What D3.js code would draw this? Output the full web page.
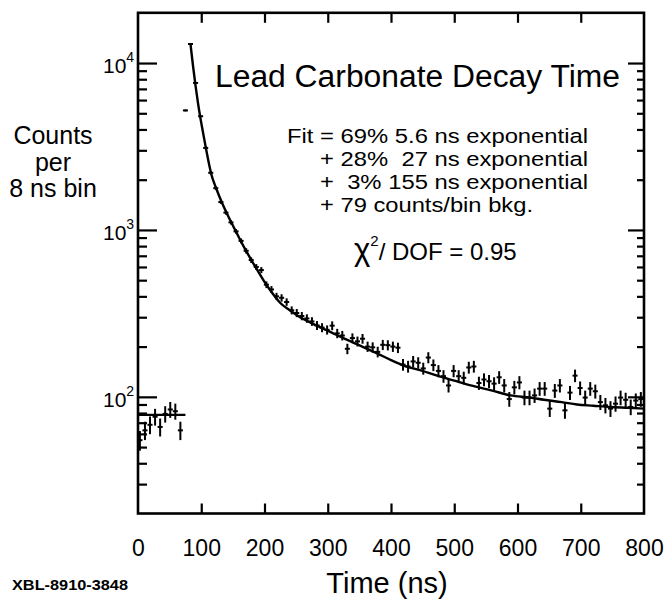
<!DOCTYPE html>
<html><head><meta charset="utf-8">
<script src="https://cdn.jsdelivr.net/npm/d3@7"></script>
<style>
body{margin:0;background:#fff}
svg{display:block}
text{font-family:"Liberation Sans",Arial,Helvetica,sans-serif;fill:#000}
</style>
</head><body><svg id="c" width="666" height="600"></svg>
<script>
// ---- data ----
const binTimes = [3,11,19,27,35,43,51,59,67,75,83,91,99,107,115,123,131,139,147,155,163,171,179,187,195,203,211,219,227,235,243,251,259,267,275,283,291,299,307,315,323,331,339,347,355,363,371,379,387,395,403,411,419,427,435,443,451,459,467,475,483,491,499,507,515,523,531,539,547,555,563,571,579,587,595,603,611,619,627,635,643,651,659,667,675,683,691,699,707,715,723,731,739,747,755,763,771,779,787,795];
const binCounts = [55,63,68,76,66,79,84,82,63,5200,
  13000,7600,4800,3100,2200,1780,1470,1270,1110,980,
  860,750,660,600,575,470,440,400,392,370,
  330,318,305,295,283,268,260,252,267,240,
  233,194,225,215,223,200,198,186,205,204,
  200,197,156,152,163,160,148,172,155,143,
  133,117,143,133,130,150,152,121,127,124,
  120,131,117,97,114,122,99,99,102,112,
  112,85,109,117,83,106,134,113,99,112,
  108,93,89,85,91,99,96,87,95,97];
const fitTimes = [83,87,91,95,99,103,108,116,124,134,144,153,161,170,185,199,212,225,240,252,280,304,330,357,378,400,420,447,473,500,526,560,589,620,642,670,694,720,747,775,800];
const fitCounts = [13000,9600,7300,5700,4600,3800,3000,2150,1760,1420,1180,1010,880,760,606,495,420,365,330,307,270,245,220,198,182,166,154,144,134,125,117,109,102,99,96,93,90,88.5,87,86,85];
const baseTimes = [0,75];
const baseCounts = [78,78];
const xTicks = [0,100,200,300,400,500,600,700,800];
const yMajor = [100,1000,10000];
const yMinor = [30,40,50,60,70,80,90,200,300,400,500,600,700,800,900,2000,3000,4000,5000,6000,7000,8000,9000];
const yLabels = [{base:"10",exp:"2",v:100},{base:"10",exp:"3",v:1000},{base:"10",exp:"4",v:10000}];
const titleText = "Lead Carbonate Decay Time";
const fitLines = ["Fit = 69% 5.6 ns exponential","+ 28%  27 ns exponential","+  3% 155 ns exponential","+ 79 counts/bin bkg."];

// ---- drawing ----
const svg = d3.select("#c");
const L=138,R=644,T=12.8,B=513.5;
const x = d3.scaleLinear().domain([0,800]).range([L,R]);
const y = d3.scaleLog().domain([20,20000]).range([B,T]);

// frame
svg.append("rect").attr("x",L).attr("y",T).attr("width",R-L).attr("height",B-T)
  .attr("fill","none").attr("stroke","#000").attr("stroke-width",2.6);

function inward(axisFn, scale, vals, size, tx, ty){
  const g = svg.append("g").attr("transform",`translate(${tx},${ty})`)
    .call(axisFn(scale).tickValues(vals).tickSize(size).tickFormat(""));
  g.select(".domain").remove();
  g.selectAll(".tick line").attr("stroke","#000").attr("stroke-width",2.2);
  return g;
}
const inner = [100,200,300,400,500,600,700];
inward(d3.axisBottom, x, inner, -10, 0, B);
inward(d3.axisTop, x, inner, -10, 0, T);
inward(d3.axisLeft, y, yMajor, -19, L, 0);
inward(d3.axisLeft, y, yMinor, -9, L, 0);
inward(d3.axisRight, y, yMajor, -16, R, 0);
inward(d3.axisRight, y, yMinor, -7, R, 0);

// x tick labels
const gx = svg.append("g").attr("transform",`translate(0,${B})`)
  .call(d3.axisBottom(x).tickValues(xTicks).tickSize(0).tickPadding(26).tickFormat(d3.format("d")));
gx.select(".domain").remove();
gx.selectAll("text").attr("font-size",23).attr("font-family","'Liberation Sans',Arial,sans-serif").attr("fill","#000");

// y tick labels with exponent
yLabels.forEach(d=>{
  const t = svg.append("text").attr("x",103).attr("y",y(d.v)+10).attr("font-size",21);
  t.append("tspan").text(d.base);
  t.append("tspan").attr("dy",-11).attr("font-size",14).text(d.exp);
});

// y axis title
[["Counts",144],["per",171],["8 ns bin",197]].forEach(([s,yy])=>{
  svg.append("text").attr("x",53).attr("y",yy).attr("text-anchor","middle").attr("font-size",25).text(s);
});
// x axis title
svg.append("text").attr("x",387).attr("y",593).attr("text-anchor","middle").attr("font-size",29).text("Time (ns)");
svg.append("text").attr("x",12).attr("y",590).attr("font-size",15).attr("font-weight","bold")
  .attr("textLength",116).attr("lengthAdjust","spacingAndGlyphs").text("XBL-8910-3848");

// title & annotations
svg.append("text").attr("x",215).attr("y",87).attr("font-size",31)
  .attr("textLength",405).attr("lengthAdjust","spacingAndGlyphs").text(titleText);
const fitSpec = [[287,143,301],[320,166,268],[320,189,268],[320,212,213]];
fitLines.forEach((s,i)=>{
  const [fx,fy,fw] = fitSpec[i];
  svg.append("text").attr("x",fx).attr("y",fy).attr("font-size",20.5).style("white-space","pre")
    .attr("textLength",fw).attr("lengthAdjust","spacingAndGlyphs").text(s);
});
const chi = svg.append("text").attr("x",354).attr("y",260).attr("font-size",24);
chi.append("tspan").attr("font-size",31).text("\u03C7");
chi.append("tspan").attr("dy",-14).attr("font-size",15).text("2");
chi.append("tspan").attr("dy",14).text("/ DOF = 0.95");

// fit curves
const line = d3.line().x(d=>x(d[0])).y(d=>y(d[1])).curve(d3.curveMonotoneX);
svg.append("path").attr("d",line(fitTimes.map((t,i)=>[t,fitCounts[i]])))
  .attr("fill","none").attr("stroke","#000").attr("stroke-width",2.4);
svg.append("path").attr("d",line(baseTimes.map((t,i)=>[t,baseCounts[i]])))
  .attr("fill","none").attr("stroke","#000").attr("stroke-width",2.4);

// data points with error bars
const pts = svg.append("g").attr("stroke","#000").attr("stroke-width",2);
binTimes.forEach((t,i)=>{
  const c = binCounts[i], e = Math.sqrt(c);
  pts.append("line").attr("x1",x(t)).attr("x2",x(t)).attr("y1",y(c+e)).attr("y2",y(Math.max(c-e,1)));
  pts.append("line").attr("x1",x(t-4)).attr("x2",x(t+4)).attr("y1",y(c)).attr("y2",y(c));
});
</script>
</body></html>
